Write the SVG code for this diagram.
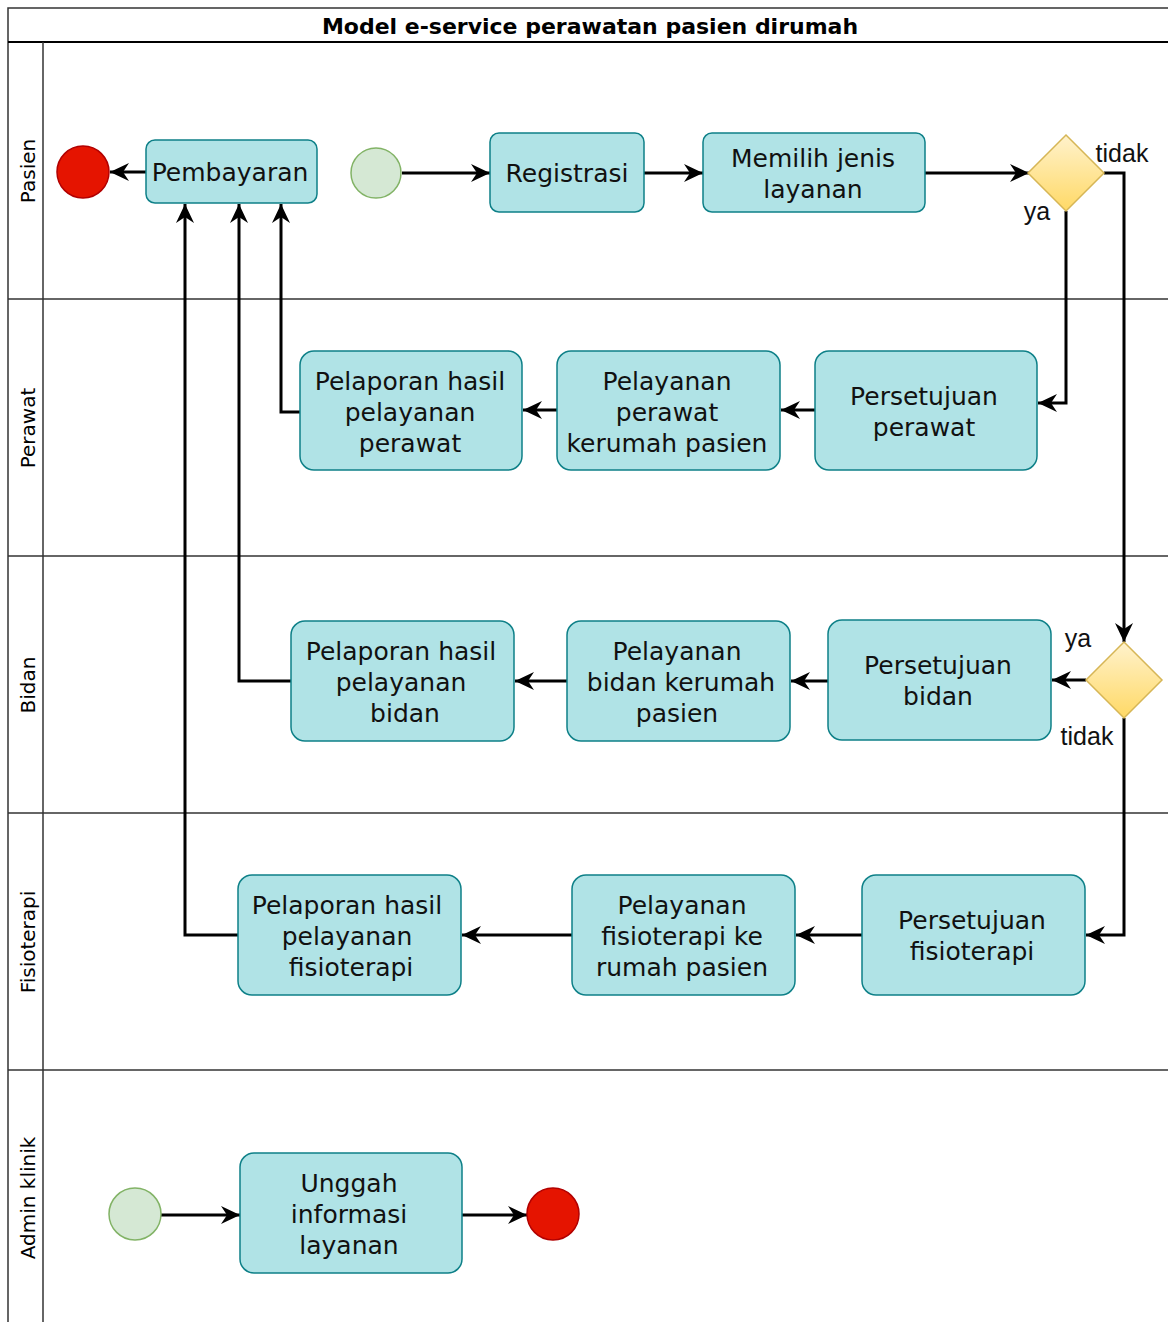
<svg xmlns="http://www.w3.org/2000/svg" width="1168" height="1322" viewBox="0 0 1168 1322">
  <style>
    .lane { fill: none; stroke: #333; stroke-width: 1.5; }
    .lanelabel { font-family: "DejaVu Sans", Verdana, sans-serif; font-size: 20px; fill: #000; text-anchor: middle; dominant-baseline: central; }
    .title { font-family: "DejaVu Sans", Verdana, sans-serif; font-size: 22px; font-weight: bold; fill: #000; text-anchor: middle; dominant-baseline: central; }
    .task { fill: #b0e3e6; stroke: #0e8088; stroke-width: 1.5; }
    .tasktext { font-family: "DejaVu Sans", Verdana, sans-serif; font-size: 25px; fill: #111; text-anchor: middle; dominant-baseline: central; }
    .start { fill: #d5e8d4; stroke: #82b366; stroke-width: 1.5; }
    .end { fill: #e51400; stroke: #b20000; stroke-width: 1.5; }
    .gate { fill: url(#gold); stroke: #d6b656; stroke-width: 1.5; }
    .edge { fill: none; stroke: #000; stroke-width: 3; marker-end: url(#arrow); }
    .edgelabel { font-family: "Liberation Sans", Arial, sans-serif; font-size: 25px; fill: #111; text-anchor: middle; dominant-baseline: central; }
  </style>
  <defs>
    <marker id="arrow" markerUnits="userSpaceOnUse" markerWidth="22" markerHeight="22" refX="19" refY="10" orient="auto" overflow="visible">
      <path d="M0,1 L19,10 L0,19 L6,10 Z" fill="#000"/>
    </marker>
    <linearGradient id="gold" x1="0" y1="0" x2="0" y2="1">
      <stop offset="0" stop-color="#fff2cc"/>
      <stop offset="1" stop-color="#ffd966"/>
    </linearGradient>
  </defs>

  <rect x="0" y="0" width="1168" height="1322" fill="#fff"/>

  <!-- pool frame, title band and swimlanes -->
  <g id="pool">
    <rect x="8" y="8" width="1170" height="1320" fill="none" stroke="#333" stroke-width="1.5"/>
    <line x1="8" y1="42" x2="1168" y2="42" stroke="#000" stroke-width="2"/>
    <text class="title" x="590" y="26">Model e-service perawatan pasien dirumah</text>
    <line class="lane" x1="43" y1="42" x2="43" y2="1322"/>
    <line class="lane" x1="8" y1="299" x2="1168" y2="299"/>
    <line class="lane" x1="8" y1="556" x2="1168" y2="556"/>
    <line class="lane" x1="8" y1="813" x2="1168" y2="813"/>
    <line class="lane" x1="8" y1="1070" x2="1168" y2="1070"/>
    <text class="lanelabel" transform="translate(28,171) rotate(-90)">Pasien</text>
    <text class="lanelabel" transform="translate(28,428) rotate(-90)">Perawat</text>
    <text class="lanelabel" transform="translate(28,685) rotate(-90)">Bidan</text>
    <text class="lanelabel" transform="translate(28,942) rotate(-90)">Fisioterapi</text>
    <text class="lanelabel" transform="translate(28,1198) rotate(-90)">Admin klinik</text>
  </g>

  <!-- connectors -->
  <g id="connectors">
    <line class="edge" x1="146" y1="172" x2="110" y2="172"/>
    <line class="edge" x1="402" y1="173" x2="490" y2="173"/>
    <line class="edge" x1="644" y1="173" x2="703" y2="173"/>
    <line class="edge" x1="925" y1="173" x2="1029" y2="173"/>
    <polyline class="edge" points="1104,173 1124,173 1124,642"/>
    <polyline class="edge" points="1066,211 1066,403 1038,403"/>
    <line class="edge" x1="815" y1="410" x2="781" y2="410"/>
    <line class="edge" x1="557" y1="410" x2="523" y2="410"/>
    <polyline class="edge" points="300,412 281,412 281,204"/>
    <line class="edge" x1="1086" y1="680" x2="1052" y2="680"/>
    <line class="edge" x1="828" y1="681" x2="791" y2="681"/>
    <line class="edge" x1="567" y1="681" x2="515" y2="681"/>
    <polyline class="edge" points="291,681 239,681 239,204"/>
    <polyline class="edge" points="1124,718 1124,935 1086,935"/>
    <line class="edge" x1="862" y1="935" x2="796" y2="935"/>
    <line class="edge" x1="572" y1="935" x2="462" y2="935"/>
    <polyline class="edge" points="238,935 185,935 185,204"/>
    <line class="edge" x1="161" y1="1215" x2="240" y2="1215"/>
    <line class="edge" x1="462" y1="1215" x2="527" y2="1215"/>
    <text class="edgelabel" x="1122" y="153">tidak</text>
    <text class="edgelabel" x="1037" y="211">ya</text>
    <text class="edgelabel" x="1078" y="638">ya</text>
    <text class="edgelabel" x="1087" y="736">tidak</text>
  </g>

  <!-- Pasien lane -->
  <g id="end-pasien"><circle class="end" cx="83" cy="172" r="26"/></g>
  <g id="pembayaran">
    <rect class="task" x="146" y="140" width="171" height="63" rx="9"/>
    <text class="tasktext" x="230" y="172">Pembayaran</text>
  </g>
  <g id="start-pasien"><circle class="start" cx="376" cy="173" r="25"/></g>
  <g id="registrasi">
    <rect class="task" x="490" y="133" width="154" height="79" rx="9"/>
    <text class="tasktext" x="567" y="173">Registrasi</text>
  </g>
  <g id="memilih-layanan">
    <rect class="task" x="703" y="133" width="222" height="79" rx="9"/>
    <text class="tasktext" x="813" y="158">Memilih jenis</text>
    <text class="tasktext" x="813" y="189">layanan</text>
  </g>
  <g id="gateway-perawat"><polygon class="gate" points="1066,135 1104,173 1066,211 1028,173"/></g>

  <!-- Perawat lane -->
  <g id="persetujuan-perawat">
    <rect class="task" x="815" y="351" width="222" height="119" rx="14"/>
    <text class="tasktext" x="924" y="396">Persetujuan</text>
    <text class="tasktext" x="924" y="427">perawat</text>
  </g>
  <g id="pelayanan-perawat">
    <rect class="task" x="557" y="351" width="223" height="119" rx="14"/>
    <text class="tasktext" x="667" y="381">Pelayanan</text>
    <text class="tasktext" x="667" y="412">perawat</text>
    <text class="tasktext" x="667" y="443">kerumah pasien</text>
  </g>
  <g id="pelaporan-perawat">
    <rect class="task" x="300" y="351" width="222" height="119" rx="14"/>
    <text class="tasktext" x="410" y="381">Pelaporan hasil</text>
    <text class="tasktext" x="410" y="412">pelayanan</text>
    <text class="tasktext" x="410" y="443">perawat</text>
  </g>

  <!-- Bidan lane -->
  <g id="gateway-bidan"><polygon class="gate" points="1124,642 1162,680 1124,718 1086,680"/></g>
  <g id="persetujuan-bidan">
    <rect class="task" x="828" y="620" width="223" height="120" rx="14"/>
    <text class="tasktext" x="938" y="665">Persetujuan</text>
    <text class="tasktext" x="938" y="696">bidan</text>
  </g>
  <g id="pelayanan-bidan">
    <rect class="task" x="567" y="621" width="223" height="120" rx="14"/>
    <text class="tasktext" x="677" y="651">Pelayanan</text>
    <text class="tasktext" x="681" y="682">bidan kerumah</text>
    <text class="tasktext" x="677" y="713">pasien</text>
  </g>
  <g id="pelaporan-bidan">
    <rect class="task" x="291" y="621" width="223" height="120" rx="14"/>
    <text class="tasktext" x="401" y="651">Pelaporan hasil</text>
    <text class="tasktext" x="401" y="682">pelayanan</text>
    <text class="tasktext" x="405" y="713">bidan</text>
  </g>

  <!-- Fisioterapi lane -->
  <g id="persetujuan-fisioterapi">
    <rect class="task" x="862" y="875" width="223" height="120" rx="14"/>
    <text class="tasktext" x="972" y="920">Persetujuan</text>
    <text class="tasktext" x="972" y="951">fisioterapi</text>
  </g>
  <g id="pelayanan-fisioterapi">
    <rect class="task" x="572" y="875" width="223" height="120" rx="14"/>
    <text class="tasktext" x="682" y="905">Pelayanan</text>
    <text class="tasktext" x="682" y="936">fisioterapi ke</text>
    <text class="tasktext" x="682" y="967">rumah pasien</text>
  </g>
  <g id="pelaporan-fisioterapi">
    <rect class="task" x="238" y="875" width="223" height="120" rx="14"/>
    <text class="tasktext" x="347" y="905">Pelaporan hasil</text>
    <text class="tasktext" x="347" y="936">pelayanan</text>
    <text class="tasktext" x="351" y="967">fisioterapi</text>
  </g>

  <!-- Admin klinik lane -->
  <g id="start-admin"><circle class="start" cx="135" cy="1214" r="26"/></g>
  <g id="unggah-informasi">
    <rect class="task" x="240" y="1153" width="222" height="120" rx="14"/>
    <text class="tasktext" x="349" y="1183">Unggah</text>
    <text class="tasktext" x="349" y="1214">informasi</text>
    <text class="tasktext" x="349" y="1245">layanan</text>
  </g>
  <g id="end-admin"><circle class="end" cx="553" cy="1214" r="26"/></g>
</svg>
